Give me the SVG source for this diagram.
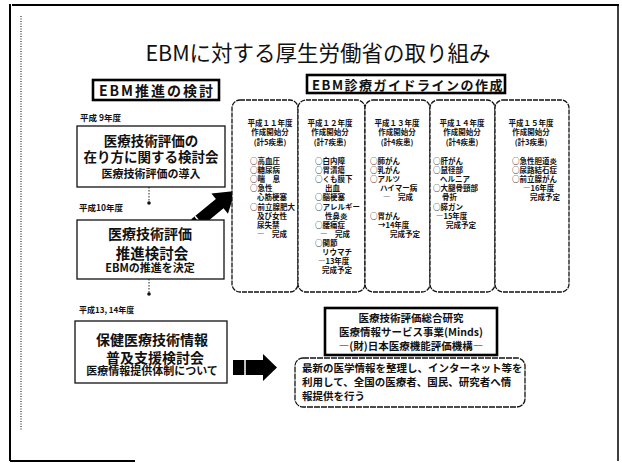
<svg xmlns="http://www.w3.org/2000/svg" width="622" height="463" viewBox="0 0 622 463">
<style>
text { font-family: "Noto Sans CJK JP", "Noto Sans", sans-serif; fill: #111; }
.title { font-size: 21.5px; font-weight: normal; }
.hd { font-size: 14px; font-weight: bold; letter-spacing: 2px; }
.hd2 { font-size: 13px; font-weight: bold; letter-spacing: 1.5px; }
.big { font-size: 13.5px; font-weight: bold; }
.sm { font-size: 11px; font-weight: bold; }
.yr { font-size: 8.5px; font-weight: bold; }
.col { font-size: 7.5px; font-weight: bold; }
.mid { font-size: 10.5px; font-weight: bold; }
.c { text-anchor: middle; }
.box { fill: #fff; stroke: #111; stroke-width: 1.3; }
.thick { fill: #fff; stroke: #000; stroke-width: 2.6; }
.colbox { fill: #fff; stroke: #111; stroke-width: 1.3; stroke-dasharray: 5 1; }
.frame line { stroke: #000; fill: none; }
.conn { stroke: #222; stroke-width: 1; stroke-dasharray: 1.5 1.5; fill: none; }
.dot { fill: #111; }
.arrow { fill: #000; }
</style>

<g id="frame" class="frame">
  <line x1="12" y1="5" x2="619" y2="5" stroke-width="2"/>
  <line x1="10" y1="4" x2="10" y2="461" stroke-width="2"/>
  <line x1="618" y1="4" x2="618" y2="461" stroke-width="1.5"/>
  <line x1="10" y1="461" x2="135" y2="461" stroke-width="2"/>
  <line x1="21" y1="16" x2="21" y2="430" stroke-width="1" stroke-dasharray="1 1.5"/>
</g>

<text x="318" y="61" class="title c">EBMに対する厚生労働省の取り組み</text>

<g id="connectors">
  <line class="conn" x1="149" y1="187" x2="149" y2="203"/>
  <circle class="dot" cx="149" cy="203" r="1.8"/>
  <line class="conn" x1="149" y1="279" x2="149" y2="294"/>
  <circle class="dot" cx="149" cy="294" r="1.8"/>
  <g transform="translate(195,224) rotate(-39.5)">
    <polygon class="arrow" points="0,-6 32,-6 32,-13 52,0 32,13 32,6 0,6"/>
    <line x1="5" y1="-6" x2="5" y2="6" stroke="#fff" stroke-width="1.5"/>
  </g>
  <polygon class="arrow" points="233,360 263,360 263,354 277,367.5 263,381 263,375 233,375"/>
  <line x1="245" y1="360" x2="245" y2="375" stroke="#fff" stroke-width="1.5"/>
</g>

<g id="ebm-suishin">
  <rect class="thick" x="93" y="80" width="126" height="20"/>
  <text x="157" y="95.5" class="hd c">EBM推進の検討</text>
</g>

<g id="h9">
  <text x="80" y="121" class="yr">平成 9年度</text>
  <rect class="box" x="77" y="126" width="148" height="61"/>
  <text x="151" y="146" class="big c">医療技術評価の</text>
  <text x="151" y="162" class="big c">在り方に関する検討会</text>
  <text x="151" y="178" class="sm c">医療技術評価の導入</text>
</g>

<g id="h10">
  <text x="79" y="211" class="yr">平成10年度</text>
  <rect class="box" x="77" y="220" width="147" height="59"/>
  <text x="150" y="238.5" class="big c" style="font-size:14px">医療技術評価</text>
  <text x="152" y="258.5" class="big c" style="font-size:14.5px">推進検討会</text>
  <text x="150" y="272" class="sm c">EBMの推進を決定</text>
</g>

<g id="h13">
  <text x="79" y="313" class="yr" style="font-size:8px">平成13, 14年度</text>
  <rect class="box" x="75" y="321" width="152" height="62"/>
  <text x="152" y="344.5" class="big c" style="font-size:14px">保健医療技術情報</text>
  <text x="155" y="362.5" class="big c" style="font-size:14px">普及支援検討会</text>
  <text x="152" y="375" class="sm c">医療情報提供体制について</text>
</g>

<g id="guideline-header">
  <rect class="thick" x="307" y="75" width="198" height="18"/>
  <text x="408" y="89.5" class="hd2 c">EBM診療ガイドラインの作成</text>
</g>

<g id="col1">
  <rect class="colbox" x="232" y="100" width="66" height="192" rx="8"/>
  <text x="270" y="126" class="col c">平成１１年度</text>
  <text x="270" y="135" class="col c">作成開始分</text>
  <text x="270" y="145" class="col c">(計5疾患)</text>
  <text x="250" y="164" class="col">○高血圧</text>
  <text x="250" y="173" class="col">○糖尿病</text>
  <text x="250" y="182" class="col">○喘　息</text>
  <text x="250" y="191" class="col">○急性</text>
  <text x="257" y="200" class="col">心筋梗塞</text>
  <text x="250" y="210" class="col">○前立腺肥大</text>
  <text x="257" y="219" class="col">及び女性</text>
  <text x="257" y="228" class="col">尿失禁</text>
  <text x="257" y="237" class="col">―　完成</text>
</g>

<g id="col2">
  <rect class="colbox" x="298" y="100" width="67" height="192" rx="8"/>
  <text x="330" y="126" class="col c">平成１２年度</text>
  <text x="330" y="135" class="col c">作成開始分</text>
  <text x="330" y="145" class="col c">(計7疾患)</text>
  <text x="315" y="164" class="col">○白内障</text>
  <text x="315" y="173" class="col">○胃潰瘍</text>
  <text x="315" y="182" class="col">○くも膜下</text>
  <text x="325" y="191" class="col">出血</text>
  <text x="315" y="200" class="col">○脳梗塞</text>
  <text x="315" y="210" class="col">○アレルギー</text>
  <text x="325" y="219" class="col">性鼻炎</text>
  <text x="315" y="228" class="col">○腰痛症</text>
  <text x="320" y="237" class="col">―　完成</text>
  <text x="315" y="246" class="col">○関節</text>
  <text x="322" y="255" class="col">リウマチ</text>
  <text x="318" y="264" class="col">―13年度</text>
  <text x="322" y="273" class="col">完成予定</text>
</g>

<g id="col3">
  <rect class="colbox" x="365" y="100" width="65" height="192" rx="8"/>
  <text x="397" y="126" class="col c">平成１３年度</text>
  <text x="397" y="135" class="col c">作成開始分</text>
  <text x="397" y="145" class="col c">(計4疾患)</text>
  <text x="370" y="164" class="col">○肺がん</text>
  <text x="370" y="173" class="col">○乳がん</text>
  <text x="370" y="182" class="col">○アルツ</text>
  <text x="380" y="191" class="col">ハイマー病</text>
  <text x="383" y="200" class="col">―　完成</text>
  <text x="370" y="219" class="col">○胃がん</text>
  <text x="378" y="228" class="col">→14年度</text>
  <text x="390" y="237" class="col">完成予定</text>
</g>

<g id="col4">
  <rect class="colbox" x="430" y="100" width="65" height="192" rx="8"/>
  <text x="462" y="126" class="col c">平成１４年度</text>
  <text x="462" y="135" class="col c">作成開始分</text>
  <text x="462" y="145" class="col c">(計4疾患)</text>
  <text x="433" y="164" class="col">○肝がん</text>
  <text x="433" y="173" class="col">○鼠径部</text>
  <text x="440" y="182" class="col">ヘルニア</text>
  <text x="433" y="191" class="col">○大腿骨頸部</text>
  <text x="442" y="200" class="col">骨折</text>
  <text x="433" y="210" class="col">○膵ガン</text>
  <text x="436" y="219" class="col">―15年度</text>
  <text x="446" y="228" class="col">完成予定</text>
</g>

<g id="col5">
  <rect class="colbox" x="495" y="100" width="74" height="192" rx="8"/>
  <text x="531" y="126" class="col c">平成１５年度</text>
  <text x="531" y="135" class="col c">作成開始分</text>
  <text x="531" y="145" class="col c">(計3疾患)</text>
  <text x="512" y="164" class="col">○急性胆道炎</text>
  <text x="512" y="173" class="col">○尿路結石症</text>
  <text x="512" y="182" class="col">○前立腺がん</text>
  <text x="523" y="191" class="col">―16年度</text>
  <text x="530" y="200" class="col">完成予定</text>
</g>

<g id="minds">
  <rect class="thick" x="325" y="308" width="172" height="47"/>
  <text x="411" y="322" class="mid c">医療技術評価総合研究</text>
  <text x="411" y="336" class="mid c">医療情報サービス事業(Minds)</text>
  <text x="411" y="350" class="mid c">―(財)日本医療機能評価機構―</text>
</g>

<g id="service">
  <rect class="box" x="295" y="358" width="230" height="49" rx="8" style="stroke-dasharray:6 1"/>
  <text x="302" y="372" class="mid">最新の医学情報を整理し、インターネット等を</text>
  <text x="302" y="386" class="mid">利用して、全国の医療者、国民、研究者へ情</text>
  <text x="302" y="400" class="mid">報提供を行う</text>
</g>
</svg>
